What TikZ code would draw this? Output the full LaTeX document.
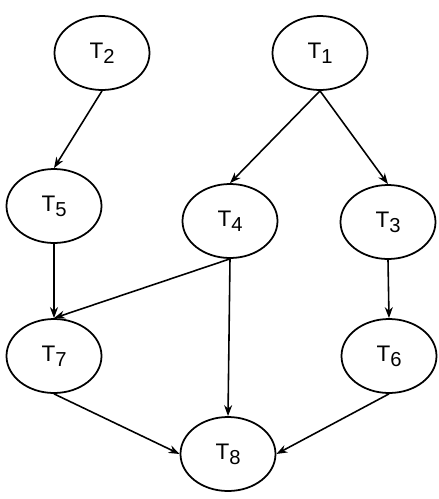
\documentclass[tikz,border=0pt]{standalone}
\usepackage{fontspec}
\setmainfont{Liberation Sans}
\usetikzlibrary{shapes.geometric,arrows.meta}
\newcommand{\task}[1]{T\raisebox{-2.8pt}{\fontsize{11.5}{12}\selectfont #1}\hspace{0.18cm}}
\begin{document}
\begin{tikzpicture}[
    taskbox/.style={draw,ellipse,line width=1pt,minimum width=1.9cm,minimum height=1.48cm,inner sep=0pt,font=\fontsize{12.8}{13}\selectfont},
    dep/.style={-{Stealth[length=2.2mm,width=1.6mm]},line width=0.9pt}]
            \useasboundingbox(0,0)rectangle(8.78,-9.98);
            \node[taskbox](t2)at(2.04,-1.06){\task{2}};
            \node[taskbox](t1)at(6.40,-1.06){\task{1}};
            \node[taskbox](t5)at(1.08,-4.12){\task{5}};
            \node[taskbox](t4)at(4.60,-4.42){\task{4}};
            \node[taskbox](t3)at(7.76,-4.44){\task{3}};
            \node[taskbox](t7)at(1.08,-7.12){\task{7}};
            \node[taskbox](t6)at(7.78,-7.12){\task{6}};
            \node[taskbox](t8)at(4.56,-9.08){\task{8}};
            \draw[dep](t2.south)--(t5.north);
            \draw[dep](t1.south)--(t4.north);
            \draw[dep](t1.south)--(t3.north);
            \draw[dep](t5.south)--(t7.north);
            \draw[dep](t4.south)--(t7.north);
            \draw[dep](t4.south)--(t8.north);
            \draw[dep](t3.south)--(t6.north);
            \draw[dep](t7.south)--(t8.west);
            \draw[dep](t6.south)--(t8.east);
        \end{tikzpicture}
\end{document}
